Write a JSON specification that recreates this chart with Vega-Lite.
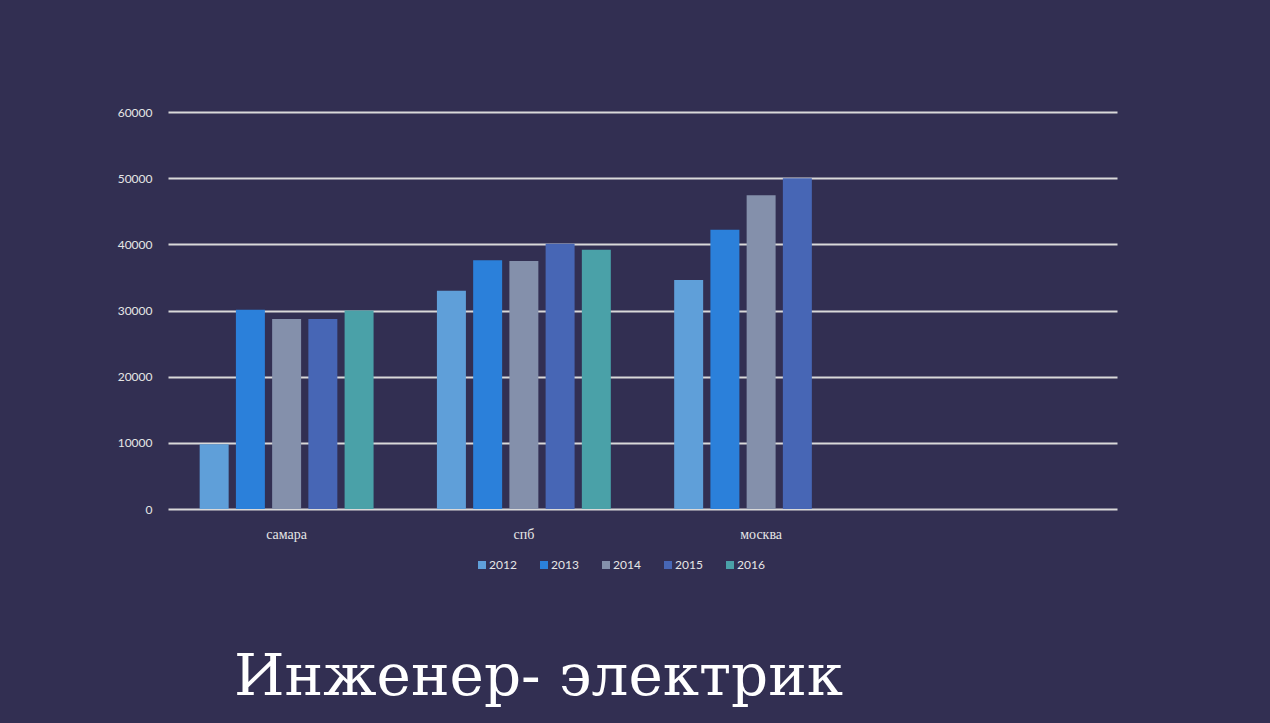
{
  "$schema": "https://vega.github.io/schema/vega-lite/v6.json",
  "autosize": {"type": "none"},
  "width": 949,
  "height": 397,
  "padding": {"left": 168, "top": 112, "right": 153, "bottom": 214},
  "background": "#322f52",
  "data": {
    "values": [
      {"city": "самара", "year": "2012", "value": 9800},
      {"city": "самара", "year": "2013", "value": 30100},
      {"city": "самара", "year": "2014", "value": 28700},
      {"city": "самара", "year": "2015", "value": 28700},
      {"city": "самара", "year": "2016", "value": 30000},
      {"city": "спб", "year": "2012", "value": 33000},
      {"city": "спб", "year": "2013", "value": 37600},
      {"city": "спб", "year": "2014", "value": 37500},
      {"city": "спб", "year": "2015", "value": 40100},
      {"city": "спб", "year": "2016", "value": 39200},
      {"city": "москва", "year": "2012", "value": 34600},
      {"city": "москва", "year": "2013", "value": 42200},
      {"city": "москва", "year": "2014", "value": 47400},
      {"city": "москва", "year": "2015", "value": 50000}
    ]
  },
  "title": {
    "text": "Инженер- электрик",
    "orient": "bottom",
    "anchor": "start",
    "frame": "group",
    "dx": 66,
    "offset": 124,
    "baseline": "alphabetic",
    "font": "DejaVu Serif",
    "fontSize": 58,
    "fontWeight": "normal",
    "color": "#ffffff"
  },
  "mark": {"type": "bar"},
  "encoding": {
    "x": {
      "field": "city",
      "type": "nominal",
      "sort": null,
      "scale": {"domain": ["самара", "спб", "москва", " "], "paddingInner": 0.267, "paddingOuter": 0.1335},
      "axis": {
        "title": null,
        "domain": false,
        "ticks": false,
        "labelAngle": 0,
        "labelPadding": 18,
        "labelFont": "Liberation Serif",
        "labelFontSize": 14,
        "labelColor": "#e6e6e6"
      }
    },
    "xOffset": {
      "field": "year",
      "type": "nominal",
      "scale": {"paddingInner": 0.2, "paddingOuter": 0}
    },
    "y": {
      "field": "value",
      "type": "quantitative",
      "scale": {"domain": [0, 60000], "nice": false},
      "axis": {
        "title": null,
        "values": [0, 10000, 20000, 30000, 40000, 50000, 60000],
        "format": "d",
        "domain": false,
        "ticks": false,
        "labelPadding": 16,
        "labelFont": "Lato",
        "labelFontSize": 12,
        "labelColor": "#e6e6e6",
        "grid": true,
        "gridColor": "#d9d9d9",
        "gridWidth": 2,
        "gridOpacity": 1
      }
    },
    "color": {
      "field": "year",
      "type": "nominal",
      "scale": {"domain": ["2012", "2013", "2014", "2015", "2016"], "range": ["#5f9fd9", "#2b80da", "#8490ab", "#4766b5", "#4aa1a8"]},
      "legend": {
        "title": null,
        "orient": "none",
        "legendX": 308,
        "legendY": 447,
        "direction": "horizontal",
        "symbolType": "square",
        "symbolSize": 64,
        "symbolStrokeWidth": 0,
        "symbolOpacity": 1,
        "labelOffset": 1,
        "columnPadding": 21,
        "labelFont": "Lato",
        "labelFontSize": 12,
        "labelColor": "#e6e6e6"
      }
    }
  },
  "config": {"view": {"stroke": null}}
}
